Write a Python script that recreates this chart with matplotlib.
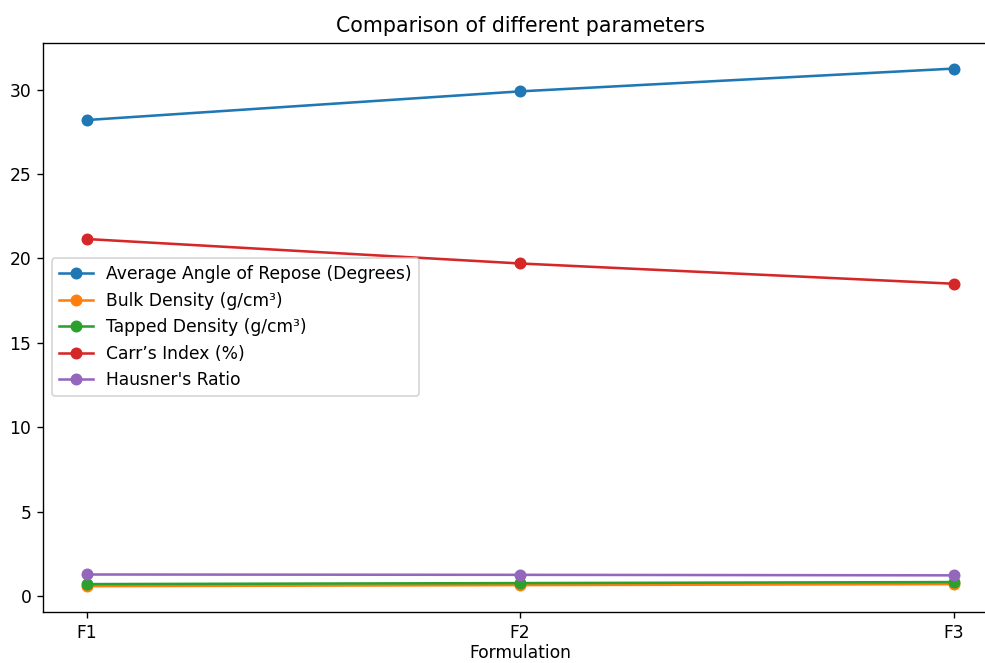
import matplotlib
matplotlib.use("Agg")
import matplotlib.pyplot as plt

formulations = ["F1", "F2", "F3"]
angle_of_repose = [28.2, 29.9, 31.25]
bulk_density = [0.58, 0.64, 0.70]
tapped_density = [0.70, 0.76, 0.82]
carrs_index = [21.15, 19.7, 18.5]
hausner_ratio = [1.27, 1.25, 1.22]

series = [
    ("Average Angle of Repose (Degrees)", angle_of_repose),
    ("Bulk Density (g/cm\u00b3)", bulk_density),
    ("Tapped Density (g/cm\u00b3)", tapped_density),
    ("Carr\u2019s Index (%)", carrs_index),
    ("Hausner's Ratio", hausner_ratio),
]

# reference looks like a bigger figure cropped on the right, drawn at ~123 dpi
fig, ax = plt.subplots(figsize=(986 / 123, 663 / 123), dpi=123)
fig.subplots_adjust(left=0.0439, right=1.0112, top=0.9356, bottom=0.0769)

for label, values in series:
    ax.plot(formulations, values, marker='o', label=label)

ax.set_title('Comparison of different parameters')
ax.set_xlabel('Formulation', labelpad=1)
ax.legend(loc='center left')

fig.savefig('out.png', dpi=123)
